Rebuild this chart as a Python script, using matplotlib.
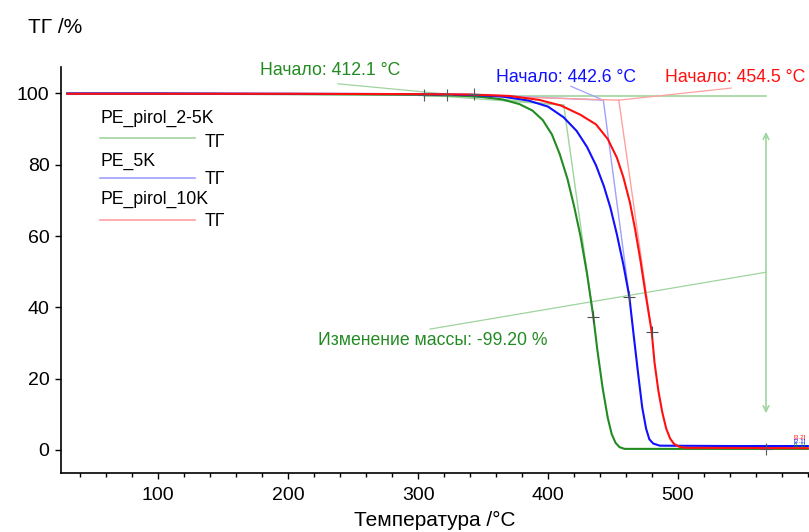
import matplotlib
matplotlib.use("Agg")
import matplotlib.pyplot as plt
from matplotlib.ticker import MultipleLocator

plt.rcParams['font.family'] = ['Liberation Sans', 'DejaVu Sans']

# TG curves: temperature (°C) and mass (%)
t_green = [30, 100, 200, 300, 330, 350, 365, 378, 388, 396, 403, 409, 415, 420, 425,
           430, 434.9, 438, 442, 446, 449, 452, 455, 459, 520, 600]
tg_green = [99.9, 99.9, 99.8, 99.6, 99.4, 99.0, 98.3, 97.0, 95.2, 92.5, 88.5, 83, 76, 68.5, 60,
            49.5, 37.4, 28, 17.5, 9, 4.5, 2, 0.8, 0.3, 0.3, 0.3]

t_blue = [30, 100, 200, 300, 340, 365, 385, 400, 412, 422, 430, 437, 443, 448, 453,
          458, 462.6, 466, 469.5, 472.5, 475.5, 478, 481, 486, 540, 600]
tg_blue = [100.0, 100.0, 99.9, 99.8, 99.6, 99.1, 98.0, 96.3, 93.3, 89.5, 85, 79.8, 74, 68, 60.5,
           52, 43, 32, 21, 12, 6, 3, 1.8, 1.2, 1.1, 1.1]

t_red = [30, 100, 200, 300, 340, 370, 393, 410, 425, 437, 446, 453, 458, 463, 467,
         471, 475, 479.8, 482, 485, 488, 491, 494, 497, 501, 506, 600]
tg_red = [99.9, 99.9, 99.9, 99.8, 99.7, 99.3, 98.2, 96.6, 94, 91.3, 87.2, 82, 76.5, 69.5, 62,
          53.5, 44, 33.2, 24.5, 16.5, 10.5, 6, 3.2, 1.7, 0.9, 0.6, 0.5]

names = ['PE_pirol_2-5K', 'PE_5K', 'PE_pirol_10K']
colors = ['#228B22', '#1010ff', '#ff1010']
light = ['#9fd49f', '#a0a0ff', '#ffa0a0']

# onset evaluation (start point of baseline, onset point, inflection point)
base_t = [304.8, 343.4, 322.3]
base_tg = [99.6, 99.7, 99.6]
onset_t = [412.1, 442.6, 454.5]
onset_tg = [96.7, 98.1, 98.1]
infl_t = [434.9, 462.6, 479.8]
infl_tg = [37.4, 43.0, 33.2]
onset_lbl_t = [178.3, 360.0, 490.0]
onset_lbl_tg = [106.3, 104.6, 104.6]
leader_t = [238.4, 417.6, 540.9]
leader_tg = [102.7, 102.0, 101.5]

# mass change evaluation
mc_t = 567.8
mc_top = 99.4
mc_bottom = 0.3
mc_arrow = (10.3, 89.2)
mc_text = 'Изменение массы: -99.20 %'

x_ticks = [100, 200, 300, 400, 500]
y_ticks = [0, 20, 40, 60, 80, 100]

fig = plt.figure(figsize=(8.09, 5.32), dpi=100)
ax = fig.add_axes([0.075, 0.111, 0.925, 0.763])

curves = [(t_green, tg_green), (t_blue, tg_blue), (t_red, tg_red)]
for (t, tg), c in zip(curves, colors):
    ax.plot(t, tg, color=c, lw=1.5, zorder=3)

# onset constructions
for i in range(3):
    ax.plot([base_t[i], onset_t[i]], [base_tg[i], onset_tg[i]], color=light[i], lw=1, zorder=2)
    ax.plot([onset_t[i], infl_t[i]], [onset_tg[i], infl_tg[i]], color=light[i], lw=1, zorder=2)
    ax.plot([leader_t[i], onset_t[i]], [leader_tg[i], onset_tg[i]], color=light[i], lw=0.9, zorder=2)
    ax.text(onset_lbl_t[i], onset_lbl_tg[i], 'Начало: %.1f °C' % onset_t[i], color=colors[i],
            fontsize=12.7, ha='left', va='center')
    ax.plot(base_t[i], base_tg[i], marker='+', color='0.35', ms=8, mew=0.8, zorder=4)
    ax.plot(infl_t[i], infl_tg[i], marker='+', color='0.3', ms=8, mew=0.8, zorder=4)

# mass change
ax.plot([base_t[0], mc_t], [mc_top, mc_top], color=light[0], lw=1.2, zorder=1)
ax.annotate('', xy=(mc_t, mc_arrow[0]), xytext=(mc_t, mc_arrow[1]),
            arrowprops=dict(arrowstyle='<->', color=light[0], lw=1.2,
                            mutation_scale=10, shrinkA=0, shrinkB=0))
ax.plot(mc_t, mc_bottom, marker='+', color='0.35', ms=8, mew=0.8, zorder=4)
ax.plot([309.2, mc_t], [33.9, (mc_top + mc_bottom) / 2], color=light[0], lw=0.9)
ax.text(223, 30.8, mc_text, color=colors[0], fontsize=12.7, ha='left', va='center')

# small tags at the right end
for tg_pos, tag, c in zip([3.6, 2.4, 1.3], ['[3.2]', '[2.1]', '[1.1]'], [colors[2], colors[1], colors[0]]):
    ax.text(588.6, tg_pos, tag, color=c, fontsize=4.5, ha='left', va='center')

# legend drawn by hand
leg_y = [[0.873, 0.826, 0.814], [0.768, 0.726, 0.724], [0.673, 0.622, 0.620]]
for i in range(3):
    ty, ly, gy = leg_y[i]
    ax.text(0.053, ty, names[i], transform=ax.transAxes, fontsize=12.7, ha='left', va='center')
    ax.plot([0.053, 0.180], [ly, ly], transform=ax.transAxes, color=light[i], lw=1.2)
    ax.text(0.193, gy, 'ТГ', transform=ax.transAxes, fontsize=12.7, ha='left', va='center')

ax.set_xlim(24.9, 600.9)
ax.set_ylim(-6.45, 107.4)
ax.set_xticks(x_ticks)
ax.set_yticks(y_ticks)
ax.xaxis.set_minor_locator(MultipleLocator(20))
ax.spines['top'].set_visible(False)
ax.spines['right'].set_visible(False)
ax.spines['left'].set_linewidth(1.2)
ax.spines['bottom'].set_linewidth(1.2)
ax.tick_params(axis='both', which='major', direction='out', length=4, width=1, labelsize=14)
ax.tick_params(axis='x', which='minor', direction='out', length=3, width=1)
ax.tick_params(axis='x', which='major', pad=6)
ax.tick_params(axis='y', which='major', pad=4)
ax.set_xlabel('Температура /°C', fontsize=15, labelpad=5)

fig.text(28 / 809, 1 - 28 / 532, 'ТГ /%', fontsize=15, ha='left', va='center')

fig.savefig('out.png', dpi=100)
